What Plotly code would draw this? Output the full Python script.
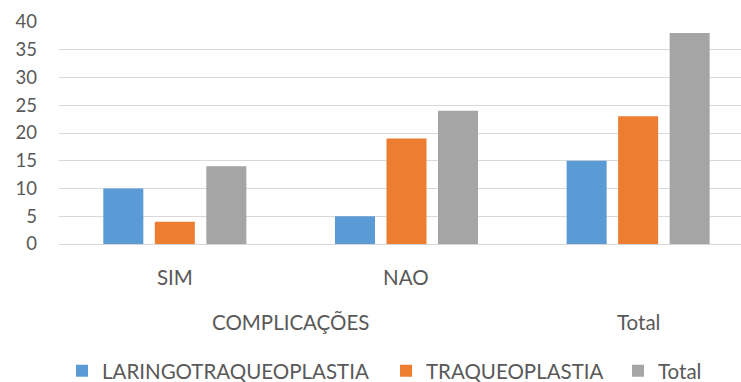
import plotly.graph_objects as go

# Grouped bar data: two levels of categories on the x axis
subcats = ["SIM", "NAO", ""]
groups = ["COMPLICAÇÕES", "COMPLICAÇÕES", "Total"]
group_labels = ["COMPLICAÇÕES", "Total"]
series_names = ["LARINGOTRAQUEOPLASTIA", "TRAQUEOPLASTIA", "Total"]
laringo = [10, 5, 15]
traqueo = [4, 19, 23]
total = [14, 24, 38]
y_ticks = [0, 5, 10, 15, 20, 25, 30, 35, 40]

colors = ["#5B9BD5", "#ED7D31", "#A5A5A5"]
text_color = "#595959"
font_family = "Lato, 'Open Sans', sans-serif"
W, H = 741, 382

xpos = list(range(len(subcats)))
legend_ids = ["legend", "legend2", "legend3"]
legend_left_px = [62, 386, 618]  # left edge of each legend entry

fig = go.Figure()
for name, vals, col, lid in zip(series_names, [laringo, traqueo, total], colors, legend_ids):
    fig.add_trace(go.Bar(x=xpos, y=vals, name=name, legend=lid,
                         marker=dict(color=col, line=dict(width=0))))

annotations = []
# first level labels
for i, lab in enumerate(subcats):
    if lab:
        annotations.append(dict(x=i, y=0, xref="x", yref="paper", text=lab, showarrow=False,
                                yshift=-33, yanchor="middle", xanchor="center",
                                font=dict(size=20.5, color=text_color, family=font_family)))
# second level labels, centred over their subcategories
for g in group_labels:
    idx = [i for i, gg in enumerate(groups) if gg == g]
    xc = sum(idx) / len(idx)
    annotations.append(dict(x=xc, y=0, xref="x", yref="paper", text=g, showarrow=False,
                            yshift=-78, yanchor="middle", xanchor="center",
                            font=dict(size=20.5, color=text_color, family=font_family)))

legend_style = dict(orientation="h", xanchor="left", xref="container",
                    y=0.029, yanchor="middle", yref="container",
                    font=dict(size=20.5, color=text_color, family=font_family),
                    itemwidth=30, bgcolor="rgba(0,0,0,0)")

layout_legends = {}
for lid, px in zip(legend_ids, legend_left_px):
    layout_legends[lid] = dict(legend_style, x=px / W)

fig.update_layout(
    width=W, height=H,
    margin=dict(l=59, r=0, t=22, b=138, autoexpand=False),
    paper_bgcolor="white", plot_bgcolor="white",
    barmode="group", bargap=0.333, bargroupgap=0.223,
    font=dict(family=font_family, size=20, color=text_color),
    xaxis=dict(range=[-0.5, 2.444], showticklabels=False, showgrid=False, zeroline=False,
               showline=True, linecolor="#D9D9D9", linewidth=1, ticks=""),
    yaxis=dict(range=[0, 40], tickvals=y_ticks, showgrid=True, gridcolor="#D9D9D9", gridwidth=1,
               zeroline=False, showline=False, ticks="", ticklabelstandoff=21,
               tickfont=dict(size=18.5, color=text_color, family=font_family)),
    annotations=annotations,
    showlegend=True,
    **layout_legends,
)

fig.write_html("out.html")
